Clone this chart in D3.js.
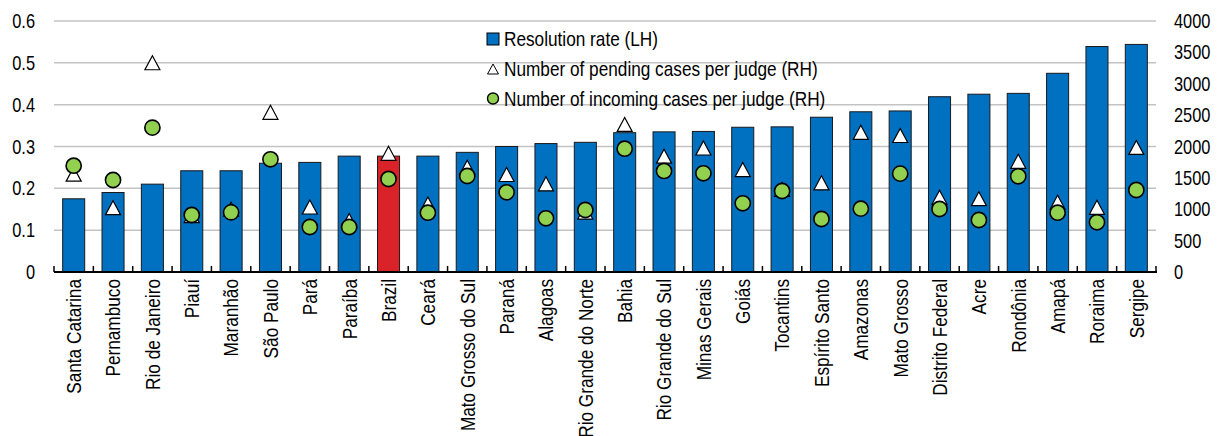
<!DOCTYPE html>
<html>
<head>
<meta charset="utf-8">
<script src="https://cdn.jsdelivr.net/npm/d3@7"></script>
<style>
  html, body { margin: 0; padding: 0; background: #fff; }
  svg text { font-family: "Liberation Sans", Arial, sans-serif; font-size: 20px; fill: #000; }
</style>
</head>
<body>
<svg id="chart" width="1222" height="436"></svg>
<script>
const categories = ["Santa Catarina","Pernambuco","Rio de Janeiro","Piauí","Maranhão","São Paulo","Pará","Paraíba","Brazil","Ceará","Mato Grosso do Sul","Paraná","Alagoas","Rio Grande do Norte","Bahia","Rio Grande do Sul","Minas Gerais","Goiás","Tocantins","Espírito Santo","Amazonas","Mato Grosso","Distrito Federal","Acre","Rondônia","Amapá","Roraima","Sergipe"];
const resolutionRate = [0.175,0.19,0.21,0.242,0.242,0.26,0.262,0.277,0.277,0.277,0.286,0.30,0.307,0.31,0.333,0.335,0.336,0.346,0.347,0.37,0.383,0.385,0.419,0.425,0.427,0.475,0.539,0.544];
const pendingCases = [1560,1025,3335,900,1000,2545,1036,820,1891,1084,1668,1554,1405,955,2351,1846,1976,1633,1315,1421,2226,2175,1190,1168,1764,1111,1031,1985];
const incomingCases = [1694,1466,2300,908,951,1796,717,717,1482,945,1530,1270,856,988,1965,1610,1573,1095,1291,845,1009,1567,1004,829,1525,945,792,1307];
const leftTicks = [0,0.1,0.2,0.3,0.4,0.5,0.6];
const rightTicks = [0,500,1000,1500,2000,2500,3000,3500,4000];
const legendLabels = ["Resolution rate (LH)","Number of pending cases per judge (RH)","Number of incoming cases per judge (RH)"];
const highlight = "Brazil";

const svg = d3.select("#chart");
const L = 54, R = 1156, T = 21, B = 272;
const SX = 0.82; // condensed text look

const x = d3.scaleBand().domain(categories).range([L, R]).paddingInner(0.44).paddingOuter(0.22);
const yL = d3.scaleLinear().domain([0, 0.6]).range([B, T]);
const yR = d3.scaleLinear().domain([0, 4000]).range([B, T]);

// gridlines
svg.append("g").selectAll("line").data(leftTicks.filter(d => d > 0)).join("line")
  .attr("x1", L).attr("x2", R)
  .attr("y1", d => yL(d)).attr("y2", d => yL(d))
  .attr("stroke", "#c3c3c3").attr("stroke-width", 1.5);

// left axis labels
svg.append("g").selectAll("text").data(leftTicks).join("text")
  .attr("transform", d => `translate(35,${yL(d)}) scale(${SX},1)`)
  .attr("dy", "0.35em")
  .attr("text-anchor", "end").text(d => d === 0 ? "0" : d3.format(".1f")(d));

// right axis labels
svg.append("g").selectAll("text").data(rightTicks).join("text")
  .attr("transform", d => `translate(1174,${yR(d)}) scale(${SX},1)`)
  .attr("dy", "0.35em")
  .attr("text-anchor", "start").text(d => d);

// bars
svg.append("g").selectAll("rect").data(categories).join("rect")
  .attr("x", d => x(d)).attr("width", x.bandwidth())
  .attr("y", (d, i) => yL(resolutionRate[i]))
  .attr("height", (d, i) => B - yL(resolutionRate[i]))
  .attr("fill", d => d === highlight ? "#da2229" : "#0070c0")
  .attr("stroke", "#1a1a1a").attr("stroke-width", 1);

// x axis
const xAxis = svg.append("g");
xAxis.append("line").attr("x1", L).attr("x2", R + 1).attr("y1", B).attr("y2", B)
  .attr("stroke", "#000").attr("stroke-width", 2);
const step = x.step();
xAxis.selectAll("line.tick").data(d3.range(categories.length + 1)).join("line")
  .attr("class", "tick")
  .attr("x1", i => L + i * step).attr("x2", i => L + i * step)
  .attr("y1", B).attr("y2", B - 6)
  .attr("stroke", "#000").attr("stroke-width", 1.5);

xAxis.selectAll("text").data(categories).join("text")
  .attr("transform", d => `translate(${x(d) + x.bandwidth() / 2},279) rotate(-90) scale(${SX},1)`)
  .attr("dy", "0.35em").attr("text-anchor", "end").style("font-size", "21px")
  .text(d => d);

// triangles
const tri = (cx, cy, w, h) => `M${cx},${cy - h / 2}L${cx + w / 2},${cy + h / 2}L${cx - w / 2},${cy + h / 2}Z`;
svg.append("g").selectAll("path").data(categories).join("path")
  .attr("d", (d, i) => tri(x(d) + x.bandwidth() / 2, yR(pendingCases[i]), 15, 14))
  .attr("fill", "#fff").attr("stroke", "#000").attr("stroke-width", 1.2);

// circles
svg.append("g").selectAll("circle").data(categories).join("circle")
  .attr("cx", d => x(d) + x.bandwidth() / 2)
  .attr("cy", (d, i) => yR(incomingCases[i]))
  .attr("r", 7.6)
  .attr("fill", "#92d050").attr("stroke", "#000").attr("stroke-width", 1.6);

// legend
const lg = svg.append("g");
const rows = [39, 69, 98.5];
lg.append("rect").attr("x", 487).attr("y", rows[0] - 6).attr("width", 12).attr("height", 12)
  .attr("fill", "#0070c0").attr("stroke", "#000").attr("stroke-width", 1);
lg.append("path").attr("d", tri(493, rows[1], 11, 10))
  .attr("fill", "#fff").attr("stroke", "#000").attr("stroke-width", 1);
lg.append("circle").attr("cx", 493).attr("cy", rows[2]).attr("r", 5.5)
  .attr("fill", "#92d050").attr("stroke", "#000").attr("stroke-width", 1.4);
lg.selectAll("text").data(legendLabels).join("text")
  .attr("transform", (d, i) => `translate(504,${rows[i]}) scale(${SX},1)`)
  .attr("dy", "0.35em").style("font-size", "21px")
  .text(d => d);
</script>
</body>
</html>
